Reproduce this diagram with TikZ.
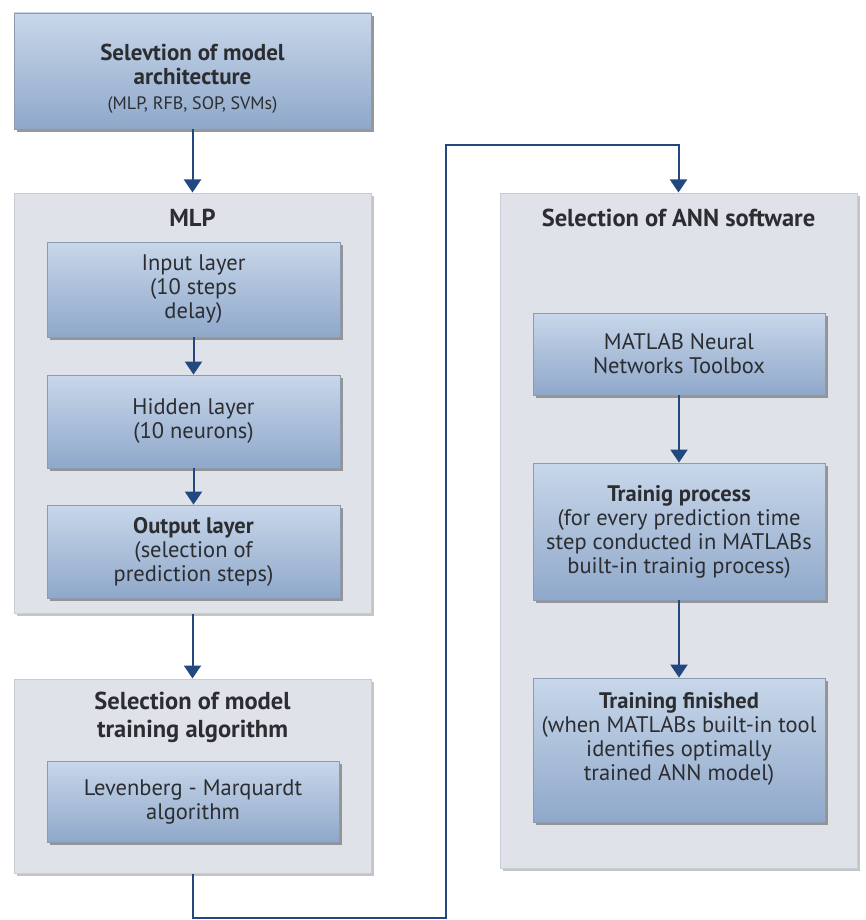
\documentclass[tikz,border=0pt]{standalone}
\usepackage{fontspec}
\setmainfont{PT Sans}
\usetikzlibrary{arrows.meta,shadows}

\definecolor{txt}{HTML}{2B2D31}
\definecolor{boxtop}{HTML}{C8D7EA}
\definecolor{boxbot}{HTML}{8FA8CA}
\definecolor{boxline}{HTML}{8C9BAF}
\definecolor{panelfill}{HTML}{DFE3E9}
\definecolor{panelline}{HTML}{C7CDD5}
\definecolor{flow}{HTML}{23477F}

\tikzset{
  every node/.style={text=txt, align=center},
  bluebox/.style={rectangle, draw=boxline, line width=0.8pt,
    top color=boxtop, bottom color=boxbot, shading angle=0,
    drop shadow={shadow xshift=3pt, shadow yshift=-3pt, fill=black!45, opacity=0.9},
    font=\fontsize{22.5}{24}\selectfont, inner sep=0pt},
  panel/.style={rectangle, draw=panelline, line width=1pt, fill=panelfill,
    drop shadow={shadow xshift=3pt, shadow yshift=-3pt, fill=black!25, opacity=0.9},
    inner sep=0pt},
  paneltitle/.style={font=\bfseries\fontsize{24.5}{28}\selectfont, inner sep=0pt},
  flowline/.style={draw=flow, line width=2pt},
  flowarrow/.style={flowline, -{Triangle[width=17pt,length=13pt]}},
}

\begin{document}
\begin{tikzpicture}[x=1pt, y=-1pt]
\useasboundingbox (0,0) rectangle (865,920);

% architecture choice
\node[bluebox, minimum width=357pt, minimum height=116pt] (arch) at (192.5,71)
  {\bfseries\fontsize{23}{23}\selectfont\rule{0pt}{31pt}Selevtion of model\\
   \bfseries\fontsize{23}{23}\selectfont architecture\\[1pt]
   \fontsize{18}{20}\selectfont (MLP, RFB, SOP, SVMs)};

% MLP panel with its three layers
\node[panel, minimum width=357pt, minimum height=420pt] (mlp) at (192.5,403) {};
\node[paneltitle] (mlptitle) at (192.5,218) {MLP};
\node[bluebox, minimum width=293pt, minimum height=95pt] (input) at (193.5,289.5)
  {Input layer\\(10 steps\\delay)};
\node[bluebox, minimum width=293pt, minimum height=93pt] (hidden) at (193.5,421.5)
  {Hidden layer\\(10 neurons)};
\node[bluebox, minimum width=293pt, minimum height=93pt] (output) at (193.5,551.5)
  {\bfseries Output layer\\(selection of\\prediction steps)};

% training algorithm panel
\node[panel, minimum width=357pt, minimum height=194pt] (train) at (192.5,776) {};
\node[paneltitle] (traintitle) at (192.5,717)
  {Selection of model\\training algorithm};
\node[bluebox, minimum width=292pt, minimum height=81pt] (lm) at (193,801.5)
  {Levenberg - Marquardt\\algorithm};

% ANN software panel
\node[panel, minimum width=357pt, minimum height=675pt] (ann) at (678.5,530.5) {};
\node[paneltitle] (anntitle) at (678.5,218) {Selection of ANN software};
\node[bluebox, minimum width=292pt, minimum height=82pt] (matlab) at (679,354)
  {MATLAB Neural\\Networks Toolbox};
\node[bluebox, minimum width=292pt, minimum height=137pt] (proc) at (679,531.5)
  {\bfseries Trainig process\\(for every prediction time\\step conducted in MATLABs\\built-in trainig process)};
\node[bluebox, minimum width=292pt, minimum height=144pt] (done) at (679,750)
  {\bfseries Training finished\\(when MATLABs built-in tool\\identifies optimally\\trained ANN model)\\[4pt]};

% connectors
\draw[flowarrow] (arch.south) -- (mlp.north);
\draw[flowarrow] (input.south) -- (hidden.north);
\draw[flowarrow] (hidden.south) -- (output.north);
\draw[flowarrow] (mlp.south) -- (train.north);
\draw[flowarrow] (matlab.south) -- (proc.north);
\draw[flowarrow] (proc.south) -- (done.north);

\coordinate (low) at (446,918);
\coordinate (high) at (446,145);
\draw[flowarrow] (train.south) |- (low) -- (high) -| (ann.north);
\end{tikzpicture}
\end{document}
